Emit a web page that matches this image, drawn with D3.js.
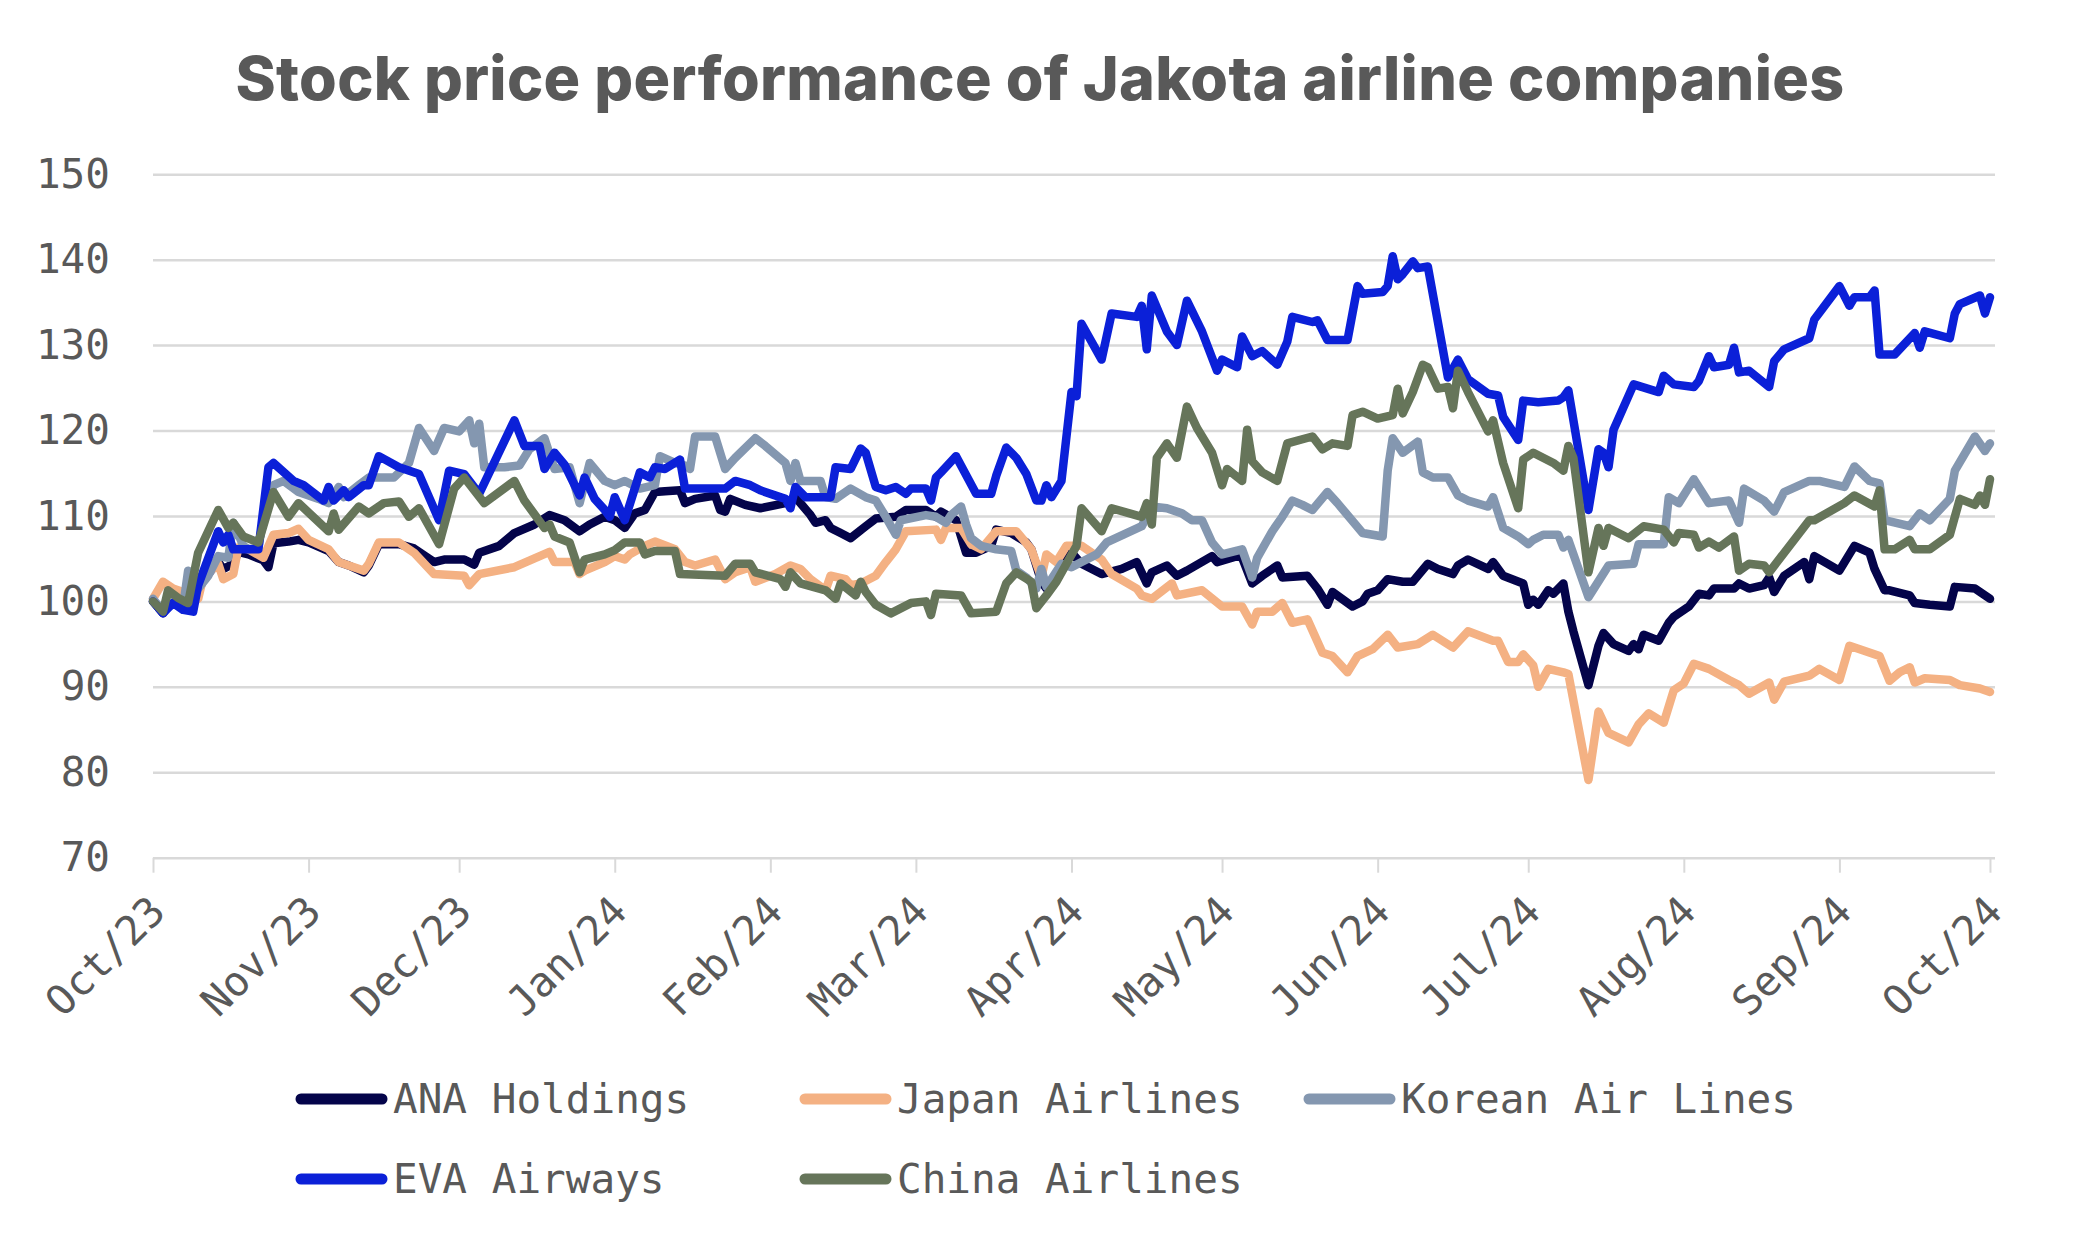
<!DOCTYPE html>
<html><head><meta charset="utf-8">
<script src="https://cdn.jsdelivr.net/npm/d3@7"></script>
<style>body{margin:0;background:#fff}</style>
</head><body>
<svg id="chart" width="2085" height="1246"></svg>
<script>
const titleText = "Stock price performance of Jakota airline companies";
const yTickValues = [70, 80, 90, 100, 110, 120, 130, 140, 150];
const seriesNames = ["ANA Holdings", "Japan Airlines", "Korean Air Lines", "EVA Airways", "China Airlines"];
const seriesColors = ["#04044a", "#f4b183", "#8497b0", "#0b20d8", "#66755a"];
// points: [days since 2023-10-01, indexed price]
const anaHoldings = [[0,100],[2,98.6],[4,100.3],[6,99.4],[8,99.6],[10,102.5],[13,104.6],[14,103.8],[16,104.4],[17,105.8],[19,105.5],[22,104.8],[23,104.0],[24,106.8],[27,107.0],[29,107.2],[31,106.9],[35,105.9],[37,104.6],[39,104.2],[42,103.4],[43,104.2],[45,106.7],[49,106.7],[52,106.2],[56,104.6],[58,104.9],[62,104.9],[64,104.3],[65,105.7],[69,106.5],[72,108.0],[76,109.0],[79,110.1],[82,109.5],[85,108.2],[87,109.0],[90,109.9],[92,109.5],[94,108.6],[96,110.3],[98,110.7],[100,112.8],[102,112.9],[105,113.0],[106,111.5],[108,112.0],[112,112.4],[113,110.7],[114,110.5],[115,112.0],[118,111.3],[121,110.9],[126,111.5],[128,112.2],[131,110.1],[132,109.2],[134,109.5],[135,108.6],[137,108.0],[139,107.4],[142,108.8],[144,109.7],[148,109.9],[150,110.7],[154,110.7],[156,109.9],[157,110.5],[160,109.5],[162,105.7],[164,105.7],[167,106.5],[168,108.4],[171,108.0],[174,106.9],[175,106.1],[177,102.3],[178,101.5],[181,104.0],[183,105.7],[185,104.4],[189,103.2],[193,103.8],[196,104.6],[198,102.1],[199,103.4],[202,104.2],[204,103.0],[206,103.6],[211,105.3],[212,104.6],[216,105.3],[217,105.1],[219,102.1],[221,103.0],[224,104.2],[225,102.8],[230,103.0],[232,101.5],[234,99.6],[235,101.1],[239,99.4],[241,100.0],[242,100.9],[244,101.3],[246,102.6],[249,102.3],[251,102.3],[254,104.4],[256,103.8],[259,103.2],[260,104.2],[262,104.9],[266,103.8],[267,104.6],[269,103.0],[273,102.1],[274,99.6],[275,100.2],[276,99.6],[278,101.3],[279,100.9],[281,102.1],[282,98.8],[283,96.5],[286,90.2],[288,94.8],[289,96.3],[291,95.0],[294,94.2],[295,95.0],[296,94.4],[297,96.1],[300,95.4],[302,97.5],[303,98.2],[306,99.4],[308,100.9],[310,100.7],[311,101.5],[315,101.5],[316,102.1],[318,101.5],[321,101.9],[322,102.8],[323,101.1],[325,103.0],[329,104.6],[330,102.6],[331,105.3],[336,103.6],[339,106.5],[342,105.7],[343,103.8],[345,101.3],[346,101.3],[350,100.7],[351,99.8],[354,99.6],[358,99.4],[359,101.7],[363,101.5],[366,100.3]];
const japanAirlines = [[0,100.3],[2,102.3],[4,101.5],[6,101.1],[9,100.3],[10,102.8],[13,104.4],[14,102.6],[16,103.2],[17,106.3],[19,106.1],[22,105.1],[24,107.8],[27,108.0],[29,108.5],[31,107.2],[35,106.1],[37,104.6],[39,104.2],[42,103.6],[43,104.4],[45,106.9],[49,106.9],[52,105.7],[56,103.2],[62,103.0],[63,101.9],[65,103.2],[72,104.0],[79,105.8],[80,104.6],[84,104.6],[85,103.2],[86,103.6],[90,104.6],[92,105.3],[94,104.9],[95,105.5],[98,106.5],[100,107.0],[104,106.1],[106,104.6],[108,104.2],[112,104.9],[114,102.6],[116,103.4],[119,104.0],[120,102.3],[124,103.2],[127,104.2],[129,103.8],[131,102.6],[134,101.3],[135,103.0],[138,102.6],[139,101.9],[141,102.1],[144,103.0],[146,104.6],[148,106.1],[150,108.2],[156,108.4],[157,107.2],[158,108.6],[161,108.6],[163,106.7],[165,106.1],[168,108.2],[172,108.2],[175,106.1],[177,102.8],[178,105.5],[180,104.6],[182,106.5],[185,106.5],[189,104.9],[191,103.2],[196,101.5],[197,100.7],[199,100.3],[203,102.1],[204,100.7],[209,101.3],[213,99.4],[217,99.4],[219,97.3],[220,98.8],[223,98.8],[225,99.8],[227,97.5],[230,97.9],[233,94.0],[235,93.6],[238,91.7],[240,93.6],[243,94.4],[246,96.1],[248,94.6],[252,95.0],[255,96.1],[259,94.6],[262,96.5],[267,95.4],[268,95.4],[270,92.9],[272,92.9],[273,93.8],[275,92.5],[276,90.0],[278,92.1],[281,91.7],[282,91.5],[286,79.1],[288,87.1],[290,84.6],[294,83.5],[296,85.6],[298,86.9],[301,85.8],[302,87.7],[303,89.6],[305,90.4],[307,92.7],[310,92.1],[314,90.8],[316,90.2],[318,89.2],[322,90.5],[323,88.5],[325,90.6],[330,91.3],[332,92.1],[336,90.8],[338,94.8],[344,93.6],[346,90.7],[348,91.7],[350,92.3],[351,90.5],[353,91.0],[358,90.8],[360,90.2],[364,89.8],[366,89.4]];
const koreanAirLines = [[0,100.3],[2,98.8],[4,100.3],[6,99.4],[7,103.6],[8,102.3],[9,101.5],[11,103.0],[13,105.3],[15,105.1],[16,109.2],[18,106.5],[19,106.1],[21,106.3],[22,109.7],[24,113.6],[26,114.1],[29,112.8],[33,112.0],[35,111.5],[37,113.4],[38,112.2],[41,113.6],[43,114.5],[48,114.5],[51,116.2],[53,120.3],[56,117.6],[58,120.3],[61,119.9],[63,121.2],[64,118.5],[65,120.8],[66,115.7],[70,115.7],[73,115.9],[75,117.8],[78,119.1],[80,115.5],[83,115.7],[85,111.5],[87,116.2],[90,114.1],[92,113.6],[94,114.1],[97,113.2],[100,113.6],[101,117.0],[104,116.2],[106,115.9],[107,115.5],[108,119.3],[112,119.3],[114,115.5],[116,116.8],[120,119.1],[122,118.2],[126,116.2],[127,114.1],[128,116.2],[129,114.1],[133,114.1],[134,112.2],[136,112.0],[139,113.2],[142,112.2],[144,111.8],[146,109.9],[148,107.8],[149,109.5],[154,110.1],[156,109.9],[158,109.2],[159,110.1],[161,111.1],[162,109.0],[163,107.4],[165,106.5],[168,106.1],[171,105.9],[172,103.6],[174,102.8],[176,101.5],[177,103.8],[178,101.7],[181,104.4],[183,104.0],[185,104.6],[188,105.5],[190,106.9],[197,108.8],[199,111.1],[202,110.9],[205,110.3],[207,109.5],[209,109.5],[211,106.9],[213,105.5],[217,106.1],[219,102.8],[220,105.1],[223,108.2],[225,109.9],[227,111.8],[229,111.3],[231,110.7],[234,112.8],[236,111.5],[241,108.0],[245,107.6],[246,115.3],[247,119.1],[249,117.4],[252,118.7],[253,115.1],[255,114.5],[258,114.5],[260,112.4],[262,111.8],[266,111.1],[267,112.2],[269,108.6],[272,107.6],[274,106.7],[275,107.2],[277,107.8],[280,107.8],[281,106.3],[282,107.2],[286,100.5],[290,104.2],[295,104.4],[296,106.7],[301,106.7],[302,112.2],[304,111.5],[307,114.3],[310,111.5],[314,111.8],[316,109.2],[317,113.2],[321,111.8],[323,110.5],[325,112.8],[330,114.1],[332,114.1],[337,113.4],[339,115.8],[342,114.1],[344,113.8],[345,109.5],[350,108.8],[352,110.3],[354,109.5],[358,112.0],[359,115.3],[363,119.3],[365,117.6],[366,118.5]];
const evaAirways = [[0,100],[2,98.6],[4,99.8],[6,99.0],[8,98.8],[9,101.9],[13,108.2],[14,106.9],[15,107.8],[16,106.1],[21,106.1],[23,115.7],[24,116.2],[28,114.1],[30,113.6],[34,111.8],[35,113.4],[36,111.8],[38,113.0],[39,112.2],[42,113.6],[43,113.6],[45,117.0],[49,115.7],[53,114.9],[57,109.5],[59,115.3],[62,114.9],[65,112.6],[72,121.2],[74,118.2],[77,118.2],[78,115.5],[80,117.4],[82,116.0],[85,112.4],[86,114.5],[88,112.0],[90,110.7],[91,109.9],[92,112.2],[94,109.5],[97,115.1],[99,114.5],[100,115.7],[102,115.5],[105,116.6],[106,113.2],[114,113.2],[116,114.1],[119,113.6],[121,113.0],[126,112.0],[127,110.9],[128,113.4],[130,112.2],[135,112.2],[136,115.7],[139,115.5],[141,117.9],[142,117.4],[144,113.4],[146,113.0],[148,113.4],[150,112.6],[151,113.2],[154,113.2],[155,111.8],[156,114.5],[157,115.1],[160,117.0],[164,112.6],[167,112.6],[168,114.7],[170,118.0],[172,116.8],[174,114.9],[176,111.8],[177,111.8],[178,113.6],[179,112.2],[181,114.1],[183,124.5],[184,124.0],[185,132.5],[189,128.3],[191,133.7],[196,133.3],[197,134.6],[198,129.5],[199,135.8],[202,131.6],[204,130.0],[206,135.2],[209,131.6],[212,127.0],[213,128.3],[216,127.4],[217,131.0],[219,128.7],[221,129.3],[224,127.7],[226,130.4],[227,133.3],[231,132.7],[232,132.9],[234,130.6],[238,130.6],[240,136.9],[241,136.0],[245,136.2],[246,136.9],[247,140.4],[248,137.7],[249,138.3],[251,139.8],[252,139.0],[254,139.2],[258,126.2],[260,128.3],[262,126.0],[266,124.3],[268,124.1],[269,121.6],[272,118.9],[273,123.5],[276,123.3],[280,123.5],[281,123.9],[282,124.7],[286,110.7],[288,117.8],[289,117.4],[290,115.7],[291,120.1],[295,125.4],[300,124.5],[301,126.4],[303,125.4],[307,125.1],[308,125.8],[310,128.7],[311,127.4],[314,127.7],[315,129.7],[316,126.8],[318,127.0],[322,125.1],[323,128.1],[325,129.5],[330,130.8],[331,133.0],[336,136.9],[338,134.6],[339,135.6],[342,135.6],[343,136.4],[344,128.9],[347,128.9],[351,131.4],[352,129.7],[353,131.6],[358,130.8],[359,133.7],[360,134.8],[364,135.8],[365,133.7],[366,135.6]];
const chinaAirlines = [[0,100.0],[2,98.8],[3,101.3],[5,100.4],[7,99.8],[9,105.7],[11,108.2],[13,110.7],[15,108.6],[16,109.2],[18,107.6],[21,106.9],[24,112.8],[27,109.9],[29,111.5],[35,108.2],[36,110.3],[37,108.4],[41,111.1],[43,110.3],[46,111.5],[49,111.7],[51,109.9],[53,110.9],[57,106.7],[60,113.2],[62,114.5],[66,111.5],[72,114.1],[74,111.8],[78,108.6],[79,109.0],[80,107.6],[83,106.9],[85,103.4],[86,104.9],[90,105.5],[92,106.0],[94,106.9],[97,106.9],[98,105.5],[100,105.9],[104,105.9],[105,103.2],[114,103.0],[116,104.4],[119,104.4],[120,103.4],[125,102.6],[126,101.7],[127,103.4],[129,102.1],[134,101.3],[136,100.3],[137,102.1],[140,100.7],[141,102.3],[142,101.1],[144,99.6],[147,98.6],[151,99.8],[154,100.0],[155,98.4],[156,100.9],[161,100.7],[163,98.6],[168,98.8],[170,102.1],[172,103.4],[175,102.3],[176,99.2],[178,100.7],[180,102.3],[182,104.4],[184,106.5],[185,110.9],[189,108.2],[191,110.9],[197,109.9],[198,111.5],[199,109.0],[200,116.8],[202,118.5],[204,116.8],[206,122.8],[208,120.3],[211,117.4],[213,113.6],[214,115.5],[217,114.1],[218,120.1],[219,116.4],[221,115.1],[224,114.1],[226,118.5],[231,119.3],[233,117.8],[235,118.5],[238,118.2],[239,121.8],[241,122.2],[244,121.4],[247,121.8],[248,124.9],[249,122.0],[251,124.5],[253,127.7],[254,127.4],[256,124.9],[258,125.1],[259,122.6],[260,127.0],[262,124.5],[266,119.9],[267,121.2],[269,116.2],[272,110.9],[273,116.6],[275,117.4],[279,116.2],[281,115.3],[282,118.2],[283,116.8],[286,103.4],[288,108.6],[289,106.5],[290,108.6],[294,107.4],[297,108.8],[301,108.4],[303,106.9],[304,108.0],[307,107.8],[308,106.3],[310,107.0],[312,106.3],[315,107.6],[316,103.6],[318,104.4],[321,104.2],[322,103.4],[330,109.5],[331,109.5],[337,111.5],[339,112.4],[343,111.1],[344,113.0],[345,106.1],[347,106.1],[350,107.2],[351,106.1],[354,106.1],[358,107.8],[360,112.0],[363,111.3],[364,112.4],[365,111.3],[366,114.3]];
const seriesData = [anaHoldings, japanAirlines, koreanAirLines, evaAirways, chinaAirlines];

const startDate = new Date(2023, 9, 1);
const endDate = new Date(2024, 9, 2);

const svg = d3.select("#chart");
const textColor = "#595959";
const gridColor = "#d9d9d9";
const monoFont = "'DejaVu Sans Mono', monospace";

const x = d3.scaleTime().domain([startDate, endDate]).range([153, 1995]);
const y = d3.scaleLinear().domain([70, 150]).range([857.7, 174.2]);

// title
const title = svg.append("text")
  .attr("x", 1040).attr("y", 100)
  .attr("text-anchor", "middle")
  .attr("font-family", "Inter, 'Noto Sans', sans-serif")
  .attr("font-weight", 800)
  .attr("font-size", 61)
  .attr("fill", textColor)
  .text(titleText);
const tw = title.node().getComputedTextLength();
title.attr("letter-spacing", ((1609 - tw) / (titleText.length - 1)).toFixed(2));

// y grid + labels
const yAxis = d3.axisLeft(y).tickValues(yTickValues).tickSize(-(1995 - 153)).tickPadding(43);
const gy = svg.append("g").attr("transform", "translate(153,0)").call(yAxis);
gy.select(".domain").remove();
gy.selectAll(".tick line").attr("stroke", gridColor).attr("stroke-width", 2.5);
gy.selectAll(".tick text").attr("font-family", monoFont).attr("font-size", 41).attr("fill", textColor);

// x axis ticks + labels
const xAxis = d3.axisBottom(x).ticks(d3.timeMonth.every(1)).tickFormat(d3.timeFormat("%b/%y")).tickSize(15);
const gx = svg.append("g").attr("transform", "translate(0,857.7)").call(xAxis);
gx.select(".domain").remove();
gx.selectAll(".tick line").attr("stroke", gridColor).attr("stroke-width", 2);
gx.selectAll(".tick text")
  .attr("font-family", monoFont).attr("font-size", 41).attr("fill", textColor)
  .attr("text-anchor", "end")
  .attr("dy", 0)
  .attr("y", 0)
  .attr("transform", "translate(14,56) rotate(-45)");

// lines
const line = d3.line()
  .x(d => x(d3.timeDay.offset(startDate, d[0])))
  .y(d => y(d[1]));
seriesData.forEach((s, i) => {
  svg.append("path")
    .datum(s)
    .attr("d", line)
    .attr("fill", "none")
    .attr("stroke", seriesColors[i])
    .attr("stroke-width", 8.5)
    .attr("stroke-linejoin", "round")
    .attr("stroke-linecap", "round");
});

// legend
const legendPos = [[295, 1099], [799, 1099], [1303, 1099], [295, 1179], [799, 1179]];
seriesNames.forEach((name, i) => {
  const [lx, ly] = legendPos[i];
  const g = svg.append("g").attr("transform", `translate(${lx},${ly})`);
  g.append("line").attr("x1", 6).attr("x2", 87).attr("y1", 0).attr("y2", 0)
    .attr("stroke", seriesColors[i]).attr("stroke-width", 11).attr("stroke-linecap", "round");
  g.append("text").attr("x", 98).attr("y", 14)
    .attr("font-family", monoFont).attr("font-size", 41).attr("fill", textColor)
    .text(name);
});
</script>
</body></html>
